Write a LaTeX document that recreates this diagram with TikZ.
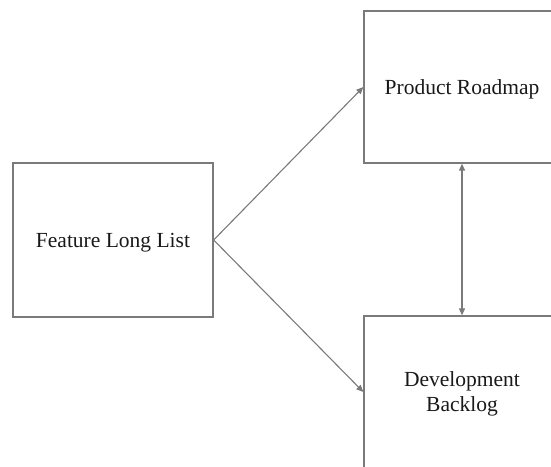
\documentclass[tikz,border=0pt]{standalone}
\usepackage{fontspec}
\setmainfont{Liberation Serif}
\usetikzlibrary{arrows.meta}
\begin{document}
\begin{tikzpicture}[x=1pt,y=-1pt,
  box/.style={draw=black!52, line width=1.3pt, fill=white, inner sep=0pt,
    minimum width=#1, minimum height=152pt, align=center, text depth=0pt,
    font=\fontsize{21.5}{25}\selectfont, text=black!90},
  tip/.style={Triangle[length=7pt,width=6pt]},
  conn/.style={draw=black!52, line width=1.1pt, -{Triangle[length=7pt,width=6pt]}},
  dconn/.style={draw=black!52, line width=1.1pt, {Triangle[length=7pt,width=6pt]}-{Triangle[length=7pt,width=6pt]}}]
\clip (0,0) rectangle (551,466);
\node[box=200pt, minimum height=154pt] (F) at (113,240) {Feature Long List};
\node[box=196pt] (R) at (462,87) {Product Roadmap};
\node[box=196pt] (D) at (462,392) {Development\\Backlog};
\draw[conn] (F.east) -- (R.west);
\draw[conn] (F.east) -- (D.west);
\draw[dconn] (R.south) -- (D.north);
\end{tikzpicture}
\end{document}
